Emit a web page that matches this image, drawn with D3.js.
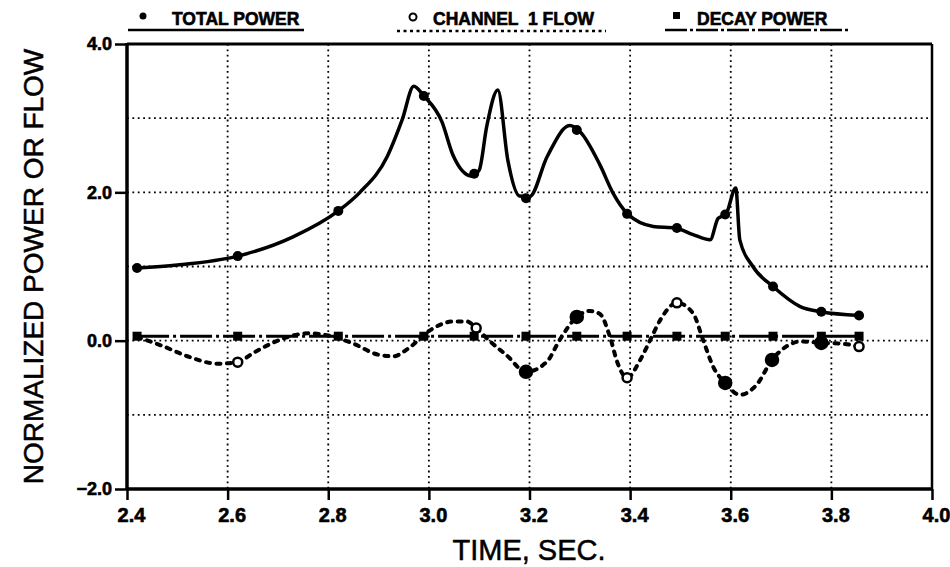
<!DOCTYPE html>
<html>
<head>
<meta charset="utf-8">
<script src="https://cdn.jsdelivr.net/npm/d3@7"></script>
<style>
  body { margin: 0; background: #fff; }
  text { font-family: "Liberation Sans", Arial, Helvetica, sans-serif; fill: #000; }
  .heavy { stroke: #000; stroke-width: 0.6px; }
  .medium { stroke: #000; stroke-width: 0.5px; }
</style>
</head>
<body>
<div id="chart"></div>
<script>
// data
var xTicks = [2.4, 2.6, 2.8, 3.0, 3.2, 3.4, 3.6, 3.8, 4.0];
var yTicks = [-2, 0, 2, 4];
var xGrid = [2.6, 2.8, 3.0, 3.2, 3.4, 3.6, 3.8];
var yGrid = [-1, 0, 1, 2, 3];

// total power trace
var totalT = [2.42, 2.50, 2.62, 2.73, 2.82, 2.863, 2.917, 2.947, 2.97, 2.99, 3.026, 3.048, 3.085, 3.10, 3.115, 3.137, 3.157, 3.18, 3.20, 3.235, 3.28, 3.30, 3.34, 3.366, 3.395, 3.446, 3.49, 3.525, 3.559, 3.575, 3.59, 3.61, 3.618, 3.644, 3.684, 3.738, 3.78, 3.855];
var totalV = [0.98, 1.02, 1.14, 1.40, 1.75, 2.00, 2.48, 2.98, 3.43, 3.30, 2.95, 2.50, 2.22, 2.30, 2.89, 3.38, 2.43, 1.95, 1.94, 2.48, 2.90, 2.82, 2.37, 1.99, 1.71, 1.54, 1.52, 1.43, 1.36, 1.65, 1.70, 2.06, 1.36, 1.00, 0.73, 0.46, 0.39, 0.34];

// channel 1 flow trace
var flowT = [2.42, 2.47, 2.52, 2.58, 2.62, 2.65, 2.68, 2.72, 2.76, 2.80, 2.85, 2.90, 2.93, 2.96, 3.00, 3.05, 3.075, 3.094, 3.12, 3.155, 3.193, 3.235, 3.26, 3.294, 3.32, 3.34, 3.36, 3.375, 3.394, 3.42, 3.44, 3.46, 3.493, 3.525, 3.545, 3.565, 3.589, 3.618, 3.652, 3.682, 3.71, 3.74, 3.78, 3.82, 3.855];
var flowV = [0.05, -0.07, -0.21, -0.31, -0.29, -0.17, -0.06, 0.05, 0.10, 0.07, -0.04, -0.19, -0.21, -0.10, 0.13, 0.26, 0.26, 0.17, 0.00, -0.20, -0.42, -0.28, 0.01, 0.32, 0.40, 0.36, 0.05, -0.30, -0.50, -0.26, 0.01, 0.28, 0.51, 0.37, 0.01, -0.35, -0.57, -0.73, -0.59, -0.26, -0.08, -0.01, -0.03, -0.04, -0.08];

// sample points where markers sit
var sampleT = [2.42, 2.62, 2.82, 2.99, 3.09, 3.193, 3.294, 3.394, 3.493, 3.589, 3.684, 3.78, 3.855];
var totalMarkV = [0.98, 1.14, 1.75, 3.30, 2.25, 1.92, 2.84, 1.71, 1.52, 1.70, 0.73, 0.39, 0.34];
var decayV = [0.06, 0.06, 0.06, 0.06, 0.06, 0.06, 0.06, 0.06, 0.06, 0.06, 0.06, 0.06, 0.06];
var flowMarkT = [2.62, 3.094, 3.193, 3.294, 3.394, 3.493, 3.589, 3.682, 3.78, 3.855];
var flowMarkV = [-0.29, 0.17, -0.42, 0.32, -0.50, 0.51, -0.57, -0.26, -0.03, -0.08];
var flowMarkFilled = [false, false, true, true, false, false, true, true, true, false];

var legendNames = ["TOTAL POWER", "CHANNEL  1 FLOW", "DECAY POWER"];

(function(){

var width = 950,
    height = 567,
    pLeft = 127, pRight = 932, pTop = 44, pBottom = 489;

var svg = d3.select("#chart")
  .append("svg")
  .attr("width", width)
  .attr("height", height);

var x = d3.scaleLinear().domain([2.4, 4.0]).range([pLeft, pRight]);
var y = d3.scaleLinear().domain([-2, 4]).range([pBottom, pTop]);

// grid
svg.append("g").selectAll("line")
  .data(xGrid).enter().append("line")
  .attr("x1", function(d){ return x(d); })
  .attr("x2", function(d){ return x(d); })
  .attr("y1", pTop).attr("y2", pBottom)
  .attr("stroke", "#000").attr("stroke-width", 1.8)
  .attr("stroke-dasharray", "1.8,3.6");

svg.append("g").selectAll("line")
  .data(yGrid).enter().append("line")
  .attr("y1", function(d){ return y(d); })
  .attr("y2", function(d){ return y(d); })
  .attr("x1", pLeft).attr("x2", pRight)
  .attr("stroke", "#000").attr("stroke-width", 1.8)
  .attr("stroke-dasharray", "1.8,3.6");

// axes
var xAxis = svg.append("g")
  .attr("transform", "translate(0," + pBottom + ")")
  .call(d3.axisBottom(x).tickValues(xTicks).tickFormat(d3.format(".1f")).tickSize(11).tickPadding(8));
xAxis.select(".domain").remove();
xAxis.selectAll(".tick line").attr("stroke-width", 2.5);
xAxis.selectAll(".tick text")
  .attr("dx", 4)
  .attr("class", "heavy")
  .style("font-size", "20px").style("font-weight", "bold");

var yAxis = svg.append("g")
  .attr("transform", "translate(" + pLeft + ",0)")
  .call(d3.axisLeft(y).tickValues(yTicks).tickFormat(d3.format(".1f")).tickSize(12).tickPadding(3));
yAxis.select(".domain").remove();
yAxis.selectAll(".tick line").attr("stroke-width", 2.5);
yAxis.selectAll(".tick text")
  .attr("class", "heavy")
  .style("font-size", "18px").style("font-weight", "bold");

// frame
svg.append("line").attr("x1", pLeft).attr("x2", pLeft).attr("y1", pTop - 1).attr("y2", pBottom + 1)
  .attr("stroke", "#000").attr("stroke-width", 3.5);
svg.append("line").attr("x1", pLeft).attr("x2", pRight).attr("y1", pBottom).attr("y2", pBottom)
  .attr("stroke", "#000").attr("stroke-width", 3.5);
svg.append("line").attr("x1", pLeft).attr("x2", pRight).attr("y1", pTop).attr("y2", pTop)
  .attr("stroke", "#000").attr("stroke-width", 3);
svg.append("line").attr("x1", pRight).attr("x2", pRight).attr("y1", pTop).attr("y2", pBottom)
  .attr("stroke", "#000").attr("stroke-width", 2.5);

// axis titles
svg.append("text")
  .attr("x", 529).attr("y", 560)
  .attr("text-anchor", "middle")
  .attr("class", "medium")
  .style("font-size", "29px")
  .text("TIME, SEC.");

svg.append("text")
  .attr("transform", "translate(43," + ((pTop + pBottom) / 2) + ") rotate(-90)")
  .attr("text-anchor", "middle")
  .attr("class", "medium")
  .style("font-size", "28px")
  .text("NORMALIZED POWER OR FLOW");

// lines
var line = d3.line()
  .x(function(d){ return x(d[0]); })
  .y(function(d){ return y(d[1]); })
  .curve(d3.curveMonotoneX);

var decayPts = sampleT.map(function(t, i){ return [t, decayV[i]]; });
svg.append("path")
  .attr("d", d3.line().x(function(d){ return x(d[0]); }).y(function(d){ return y(d[1]); })(decayPts))
  .attr("fill", "none").attr("stroke", "#000").attr("stroke-width", 3)
  .attr("stroke-dasharray", "32,4,3,4");

var flowPts = flowT.map(function(t, i){ return [t, flowV[i]]; });
svg.append("path")
  .attr("d", line(flowPts))
  .attr("fill", "none").attr("stroke", "#000").attr("stroke-width", 4)
  .attr("stroke-linecap", "round")
  .attr("stroke-dasharray", "4,6.5");

var totalPts = totalT.map(function(t, i){ return [t, totalV[i]]; });
svg.append("path")
  .attr("d", line(totalPts))
  .attr("fill", "none").attr("stroke", "#000").attr("stroke-width", 3.5)
  .attr("stroke-linejoin", "round");

// markers
svg.append("g").selectAll("rect")
  .data(decayPts).enter().append("rect")
  .attr("x", function(d){ return x(d[0]) - 4.5; })
  .attr("y", function(d){ return y(d[1]) - 4.5; })
  .attr("width", 9).attr("height", 9)
  .attr("fill", "#000");

svg.append("g").selectAll("circle")
  .data(sampleT.map(function(t, i){ return [t, totalMarkV[i]]; }))
  .enter().append("circle")
  .attr("cx", function(d){ return x(d[0]); })
  .attr("cy", function(d){ return y(d[1]); })
  .attr("r", 5)
  .attr("fill", "#000");

svg.append("g").selectAll("circle")
  .data(flowMarkT.map(function(t, i){ return [t, flowMarkV[i], flowMarkFilled[i]]; }))
  .enter().append("circle")
  .attr("cx", function(d){ return x(d[0]); })
  .attr("cy", function(d){ return y(d[1]); })
  .attr("r", function(d){ return d[2] ? 6 : 4.5; })
  .attr("fill", function(d){ return d[2] ? "#000" : "#fff"; })
  .attr("stroke", "#000").attr("stroke-width", 2.5);

// legend
var lg = svg.append("g");
lg.append("circle").attr("cx", 143).attr("cy", 16).attr("r", 3.5).attr("fill", "#000");
lg.append("text").attr("x", 172).attr("y", 25).attr("class", "heavy")
  .style("font-size", "17.5px").style("font-weight", "bold")
  .style("white-space", "pre").text(legendNames[0]);
lg.append("line").attr("x1", 128).attr("x2", 304).attr("y1", 30).attr("y2", 30)
  .attr("stroke", "#000").attr("stroke-width", 2.5);

lg.append("circle").attr("cx", 413).attr("cy", 17).attr("r", 3.5).attr("fill", "#fff")
  .attr("stroke", "#000").attr("stroke-width", 2);
lg.append("text").attr("x", 433).attr("y", 25).attr("class", "heavy")
  .style("font-size", "17.5px").style("font-weight", "bold")
  .style("white-space", "pre").text(legendNames[1]);
lg.append("line").attr("x1", 397).attr("x2", 606).attr("y1", 31).attr("y2", 31)
  .attr("stroke", "#000").attr("stroke-width", 2.5).attr("stroke-dasharray", "3,3.5");

lg.append("rect").attr("x", 673).attr("y", 12).attr("width", 7).attr("height", 7).attr("fill", "#000");
lg.append("text").attr("x", 697).attr("y", 25).attr("class", "heavy")
  .style("font-size", "17.5px").style("font-weight", "bold")
  .style("white-space", "pre").text(legendNames[2]);
lg.append("line").attr("x1", 665).attr("x2", 848).attr("y1", 30).attr("y2", 30)
  .attr("stroke", "#000").attr("stroke-width", 2.5).attr("stroke-dasharray", "22,3,3,3");

})();
</script>
</body>
</html>
